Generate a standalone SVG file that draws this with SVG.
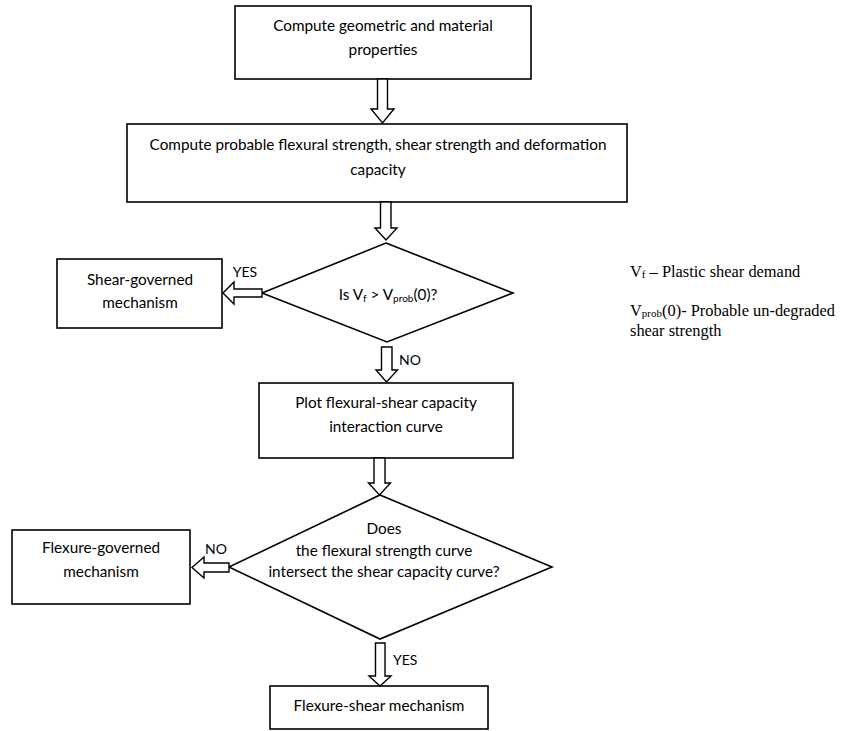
<svg xmlns="http://www.w3.org/2000/svg" width="842" height="731" viewBox="0 0 842 731">
<style>
.box{fill:#fff;stroke:#000;stroke-width:1.6}
.arr{fill:#fff;stroke:#000;stroke-width:1.4;stroke-linejoin:miter}
.t{font-family:Lato,"Liberation Sans",sans-serif;font-size:15.3px;fill:#000;text-anchor:middle}
.l{font-family:Lato,"Liberation Sans",sans-serif;font-size:14px;fill:#000}
.s{font-family:"Liberation Serif",serif;font-size:16.4px;fill:#000}
</style>
<rect width="842" height="731" fill="#fff"/>
<g id="n1"><rect class="box" x="235" y="6" width="296" height="73"/>
<text class="t" x="383" y="31">Compute geometric and material</text>
<text class="t" x="383" y="55">properties</text></g>
<g id="n2"><rect class="box" x="127" y="124" width="500" height="78"/>
<text class="t" x="378" y="150">Compute probable flexural strength, shear strength and deformation</text>
<text class="t" x="378" y="175">capacity</text></g>
<g id="d1"><polygon class="box" points="386,243 513,293 387,342 262,293"/>
<text class="t" x="388" y="300">Is V<tspan font-size="10" dy="2">f</tspan><tspan dy="-2"> &gt; V</tspan><tspan font-size="10" dy="2">prob</tspan><tspan dy="-2">(0)?</tspan></text></g>
<g id="n3"><rect class="box" x="57" y="259" width="165" height="69"/>
<text class="t" x="140" y="285">Shear-governed</text>
<text class="t" x="140" y="308">mechanism</text></g>
<g id="n4"><rect class="box" x="259" y="383" width="254" height="75"/>
<text class="t" x="386" y="408">Plot flexural-shear capacity</text>
<text class="t" x="386" y="432">interaction curve</text></g>
<g id="d2"><polygon class="box" points="380,495 552,567 380,639 229,567"/>
<text class="t" x="384" y="534">Does</text>
<text class="t" x="384" y="556">the flexural strength curve</text>
<text class="t" x="384" y="577">intersect the shear capacity curve?</text></g>
<g id="n5"><rect class="box" x="12" y="530" width="178" height="74"/>
<text class="t" x="101" y="553">Flexure-governed</text>
<text class="t" x="101" y="577">mechanism</text></g>
<g id="n6"><rect class="box" x="270" y="686" width="218" height="43"/>
<text class="t" x="379" y="711">Flexure-shear mechanism</text></g>
<g id="legend">
<text class="s" x="630" y="277">V<tspan font-size="11" dy="1">f</tspan><tspan dy="-1"> – Plastic shear demand</tspan></text>
<text class="s" x="630" y="316">V<tspan font-size="11" dy="1">prob</tspan><tspan dy="-1">(0)- Probable un-degraded</tspan></text>
<text class="s" x="630" y="336">shear strength</text>
</g>
<g id="connectors">
<path class="arr" d="M377.5,79 H387.5 V109 H394 L382.5,123 L371,109 H377.5 Z"/>
<path class="arr" d="M380.5,202 H391 V228 H397 L386,240 L375,228 H380.5 Z"/>
<path class="arr" d="M381.5,347 H392 V370 H397.5 L386.5,382 L376,370 H381.5 Z"/>
<path class="arr" d="M374,458 H385 V483 H390.5 L379.5,495 L368.5,483 H374 Z"/>
<path class="arr" d="M375.5,643 H385 V676 H391 L380,686 L369,676 H375.5 Z"/>
<path class="arr" d="M262,289 V297 H234 V304 L223,293 L234,282 V289 Z"/>
<path class="arr" d="M229,563 V572 H204 V578 L192,567.5 L204,557 V563 Z"/>
<text class="l" x="245" y="277" text-anchor="middle">YES</text>
<text class="l" x="399" y="365">NO</text>
<text class="l" x="216" y="554" text-anchor="middle">NO</text>
<text class="l" x="393" y="665">YES</text>
</g>
</svg>
